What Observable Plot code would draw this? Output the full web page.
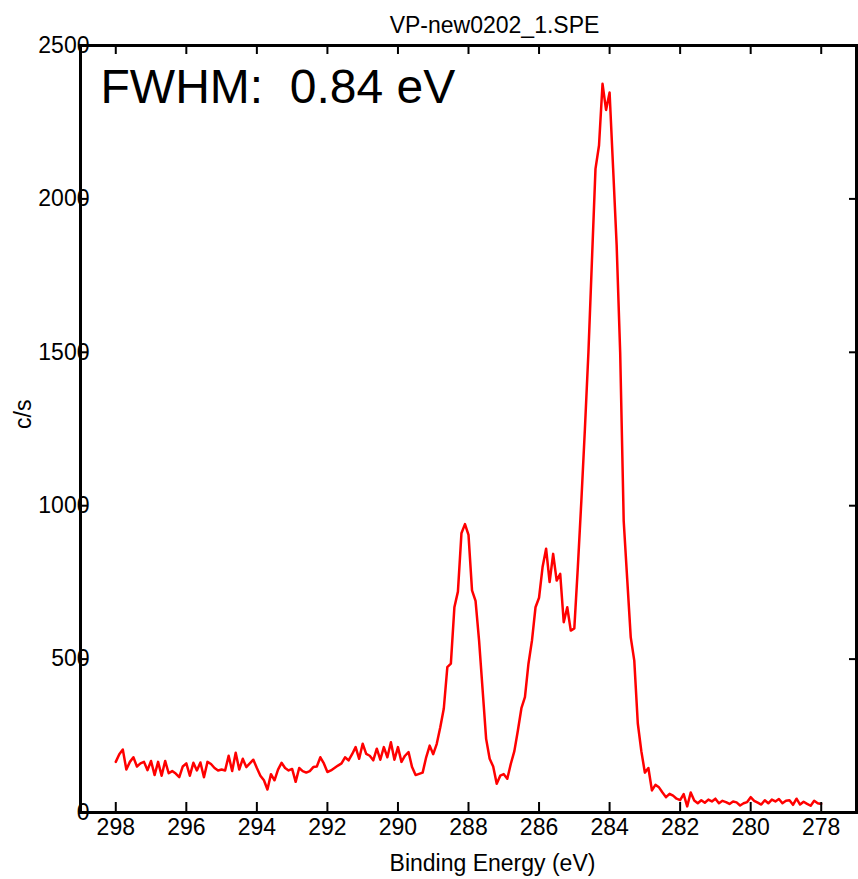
<!DOCTYPE html>
<html>
<head>
<meta charset="utf-8">
<script src="https://cdn.jsdelivr.net/npm/d3@7"></script>
<script src="https://cdn.jsdelivr.net/npm/@observablehq/plot@0.6"></script>
<style>
  body { margin: 0; background: #ffffff; }
  #chart svg { display: block; }
</style>
</head>
<body>
<div id="chart"></div>
<script>
const title = "VP-new0202_1.SPE";
const annotation = "FWHM:\u00a0 0.84 eV";
const xLabel = "Binding Energy (eV)";
const yLabel = "c/s";
const xTicks = [298, 296, 294, 292, 290, 288, 286, 284, 282, 280, 278];
const yTicks = [0, 500, 1000, 1500, 2000, 2500];

// Sampling grid: 298.0 eV down to 278.0 eV in 0.1 eV steps
const startEnergy = 298.0;
const stepEnergy = 0.1;

// counts (c/s), rows of ten values each
const counts = [
  165, 190, 205, 140, 165, 180, 150, 160, 165, 138,   // 298.0 - 297.1
  168, 122, 165, 120, 168, 128, 135, 127, 115, 150,   // 297.0 - 296.1
  160, 120, 162, 137, 163, 115, 165, 158, 145, 137,   // 296.0 - 295.1
  140, 137, 185, 135, 195, 140, 175, 148, 160, 172,   // 295.0 - 294.1
  145, 120, 105, 75, 125, 105, 140, 162, 145, 137,    // 294.0 - 293.1
  142, 100, 145, 135, 130, 135, 148, 150, 180, 160,   // 293.0 - 292.1
  132, 137, 145, 153, 160, 180, 170, 190, 213, 175,   // 292.0 - 291.1
  224, 191, 185, 170, 208, 172, 213, 180, 229, 172,   // 291.0 - 290.1
  213, 165, 185, 197, 148, 122, 126, 130, 180, 218,   // 290.0 - 289.1
  190, 224, 278, 339, 474, 485, 669, 720, 910, 940,   // 289.0 - 288.1
  905, 724, 690, 560, 400, 240, 175, 150, 94, 120,    // 288.0 - 287.1
  125, 110, 159, 200, 267, 340, 376, 485, 561, 669,   // 287.0 - 286.1
  700, 800, 860, 751, 843, 756, 778, 620, 669, 593,   // 286.0 - 285.1
  600, 800, 1017, 1250, 1500, 1800, 2098, 2174, 2375, 2290, // 285.0 - 284.1
  2347, 2100, 1850, 1500, 950, 760, 571, 495, 290, 200,     // 284.0 - 283.1
  130, 145, 72, 90, 82, 65, 50, 61, 55, 45,           // 283.0 - 282.1
  40, 60, 20, 65, 39, 30, 40, 32, 42, 36,             // 282.0 - 281.1
  45, 30, 38, 34, 28, 36, 33, 23, 30, 34,             // 281.0 - 280.1
  50, 38, 32, 26, 40, 30, 42, 36, 44, 30,             // 280.0 - 279.1
  38, 40, 25, 45, 26, 35, 28, 22, 38, 30,             // 279.0 - 278.1
  28                                                  // 278.0
];

const energies = counts.map((_, i) => +(startEnergy - i * stepEnergy).toFixed(1));
const spectrum = energies.map((e, i) => ({energy: e, cps: counts[i]}));

const chart = Plot.plot({
  width: 858,
  height: 879,
  marginLeft: 80,
  marginRight: 2,
  marginTop: 45,
  marginBottom: 67,
  style: {
    fontFamily: "'Liberation Sans', Arial, Helvetica, sans-serif",
    fontSize: "23px",
    color: "#000000",
    background: "#ffffff"
  },
  x: {domain: [299, 277]},
  y: {domain: [0, 2500]},
  marks: [
    Plot.line(spectrum, {x: "energy", y: "cps", stroke: "#ff0000", strokeWidth: 2.5}),
    Plot.frame({strokeWidth: 3}),
    // inward tick marks
    Plot.axisX(xTicks, {anchor: "bottom", tickSize: 10, dy: -10, fill: "none", strokeWidth: 2, label: null}),
    Plot.axisX(xTicks, {anchor: "top", tickSize: 8, dy: 8, fill: "none", strokeWidth: 2, label: null}),
    Plot.axisY(yTicks, {anchor: "left", tickSize: 7, dx: 7, fill: "none", strokeWidth: 2, label: null}),
    Plot.axisY(yTicks, {anchor: "right", tickSize: 8, dx: -8, fill: "none", strokeWidth: 2, label: null}),
    // tick labels
    Plot.axisX(xTicks, {anchor: "bottom", tickSize: 0, tickPadding: 6, tickFormat: d => String(d), label: null}),
    Plot.axisY(yTicks, {anchor: "left", tickSize: 0, tickPadding: 0, dx: 9, tickFormat: d => String(d), label: null}),
    // titles
    Plot.text([title], {frameAnchor: "top", dx: 26, dy: -13, lineAnchor: "bottom", text: d => d}),
    Plot.text([xLabel], {frameAnchor: "bottom", dx: 24, dy: 58, lineAnchor: "bottom", text: d => d}),
    Plot.text([yLabel], {frameAnchor: "left", dx: -50, rotate: -90, lineAnchor: "bottom", text: d => d}),
    Plot.text([annotation], {frameAnchor: "top-left", dx: 20, dy: 57, fontSize: 48, textAnchor: "start", lineAnchor: "bottom", text: d => d})
  ]
});

document.getElementById("chart").appendChild(chart);
</script>
</body>
</html>
